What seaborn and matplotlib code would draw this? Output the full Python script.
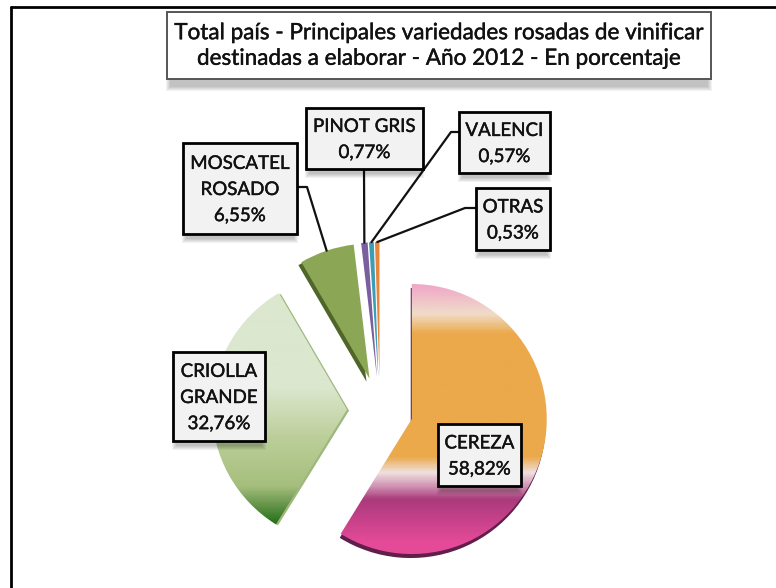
import numpy as np
import matplotlib
matplotlib.use("Agg")
import matplotlib.pyplot as plt
import matplotlib.patches as mpatches
import matplotlib.patheffects as pe
from matplotlib.colors import LinearSegmentedColormap
import seaborn as sns

varieties = ["CEREZA", "CRIOLLA\nGRANDE", "MOSCATEL\nROSADO", "PINOT GRIS", "VALENCI", "OTRAS"]
shares = [58.82, 32.76, 6.55, 0.77, 0.57, 0.53]
share_labels = ["58,82%", "32,76%", "6,55%", "0,77%", "0,57%", "0,53%"]
title = "Total país - Principales variedades rosadas de vinificar\ndestinadas a elaborar - Año 2012 - En porcentaje"

H = 588


def shadow_box(ax, x0, y0, x1, y1, lw=2.0, fc="#f2f2f2", ec="black", drop=9):
    # box in pixels from the top left, soft grey shadow underneath
    for k in range(5):
        ax.add_patch(mpatches.Rectangle((x0 - 1 + k, H - y1 - drop + k), x1 - x0 + 2 - 2 * k, y1 - y0,
                                        fc="black", ec="none", alpha=0.05, zorder=5))
    ax.add_patch(mpatches.Rectangle((x0, H - y1), x1 - x0, y1 - y0, fc=fc, ec=ec, lw=lw, zorder=6))


def gradient(ax, wedge, stops):
    # vertical gradient clipped to the wedge, stops are given as pixel rows
    top, bottom = stops[0][0], stops[-1][0]
    cmap = LinearSegmentedColormap.from_list(
        "g", [((y - top) / (bottom - top), c) for y, c in stops])
    grad = np.linspace(0, 1, 300).reshape(-1, 1)
    im = ax.imshow(grad, cmap=cmap, aspect="auto", origin="upper",
                   extent=(0, 776, H - bottom, H - top), zorder=3)
    im.set_clip_path(wedge)


def side(ax, wedge, color, dx, dy):
    ax.add_patch(mpatches.Wedge((wedge.center[0] + dx, wedge.center[1] + dy), wedge.r,
                                wedge.theta1, wedge.theta2, fc=color, ec="none", zorder=2))


sns.set_theme(style="white")
plt.rcParams["font.family"] = ["Lato", "DejaVu Sans"]

fig, ax = plt.subplots(figsize=(7.76, 5.88), dpi=100)
fig.subplots_adjust(0, 0, 1, 1)

colors = ["#eba94b", "#dce7cf", "#8ba755", "#7a5f9e", "#3c9db5", "#e8853a"]
# explode is an absolute offset here because the radius is given in pixels
wedges, _ = ax.pie(shares, colors=colors, startangle=90, counterclock=False,
                   explode=[33] * 6, radius=135, center=(380, H - 410), frame=True,
                   wedgeprops={"linewidth": 0, "zorder": 3})
wedges[0].set_visible(False)
wedges[1].set_visible(False)

gradient(ax, wedges[0], [(280, "#efa0c8"), (313, "#f0dcc8"), (333, "#eba94b"), (457, "#eba94b"),
                         (473, "#efe0e0"), (487, "#cf90b0"), (500, "#aa3a7c"), (543, "#e54a98"),
                         (556, "#e54a98")])
gradient(ax, wedges[1], [(285, "#dce7cf"), (387, "#dce7cf"), (437, "#bccf9a"), (487, "#a5be7c"),
                         (503, "#6e9a50"), (527, "#1c6b12")])
side(ax, wedges[0], "#5f1f4a", -1, -4)
side(ax, wedges[1], "#9db87c", 2, -1)
side(ax, wedges[2], "#4f6628", -3, -3)

# frame of the picture
ax.plot([11, 11], [0, H - 7], color="black", lw=2, zorder=1)
ax.plot([11, 776], [H - 7, H - 7], color="black", lw=2, zorder=1)

fat = [pe.withStroke(linewidth=0.3, foreground="#111111")]

# title
shadow_box(ax, 167, 12, 711, 79, lw=1.4, fc="white", ec="#555555", drop=12)
ax.text(439, H - 46, title, ha="center", va="center", fontsize=16.2, color="#111111",
        linespacing=1.35, zorder=7, path_effects=fat)

# label boxes and leader lines
boxes = [(438, 424, 521, 486), (173, 352, 265, 441), (183, 143, 297, 234),
         (306, 108, 423, 169), (459, 112, 550, 173), (476, 188, 550, 250)]
elbows = [None, None, [(297, 187), (307, 187)], [(364, 169)],
          [(459, 132), (451, 132)], [(476, 208), (465, 208)]]

for i, box in enumerate(boxes):
    shadow_box(ax, *box)
    ax.text((box[0] + box[2]) / 2, H - (box[1] + box[3]) / 2 - 1,
            varieties[i] + "\n" + share_labels[i], ha="center", va="center",
            fontsize=13.5, color="#111111", linespacing=1.65, zorder=7, path_effects=fat)
    if elbows[i] is not None:
        w = wedges[i]
        ang = np.radians((w.theta1 + w.theta2) / 2)
        xs = [p[0] for p in elbows[i]] + [w.center[0] + w.r * np.cos(ang)]
        ys = [H - p[1] for p in elbows[i]] + [w.center[1] + w.r * np.sin(ang)]
        ax.plot(xs, ys, color="#111111", lw=1.6, zorder=4)

ax.set_xlim(0, 776)
ax.set_ylim(0, H)
ax.set_aspect("auto")
ax.axis("off")
fig.savefig("out.png", dpi=100)
